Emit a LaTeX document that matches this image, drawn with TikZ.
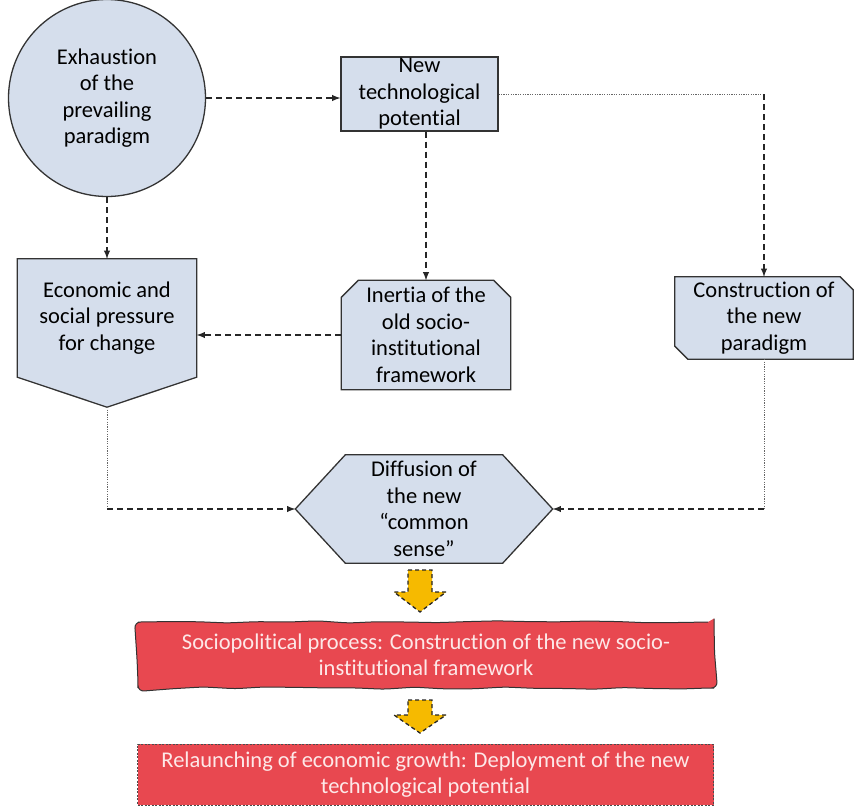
\documentclass[tikz,border=0pt]{standalone}
\usepackage{fontspec}
\setmainfont{Carlito}[Ligatures={NoCommon}]
\usetikzlibrary{decorations.pathmorphing}
\definecolor{boxblue}{RGB}{213,222,236}
\definecolor{boxred}{RGB}{232,72,80}
\definecolor{arrowyellow}{RGB}{246,186,0}
\definecolor{redtext}{RGB}{253,232,232}
\pgfdeclarelayer{bg}
\pgfsetlayers{bg,main}
\tikzset{
  txt/.style={align=center,inner sep=0pt,font=\fontsize{22.5}{26.5}\selectfont},
  outline/.style={fill=boxblue,draw=black!80,line width=1.3pt},
  dashline/.style={dash pattern=on 6pt off 4pt,line width=1.8pt,black!85},
  dotline/.style={dash pattern=on 1.2pt off 1.2pt,line width=0.9pt,black!60},
  redbox/.style={txt,fill=boxred,text=redtext,minimum width=576pt},
  yarrow/.style={fill=arrowyellow,draw=black!85,line width=1.3pt,dash pattern=on 4pt off 3pt}
}
\pgfmathsetseed{3}
\begin{document}
\begin{tikzpicture}[x=1pt,y=-1pt]
\useasboundingbox (0,0) rectangle (854,809);
% shapes and their texts
\node[txt,circle,outline,minimum size=197pt] (exh) at (107,98) {Exhaustion\\of the\\prevailing\\paradigm};
\node[txt,outline,minimum width=157pt,minimum height=74pt] (ntp) at (419.5,94) {New\\technological\\potential};
\node[txt,minimum width=179pt,minimum height=118pt] (eco) at (107,318) {Economic and\\social pressure\\for change};
\node[txt,minimum width=169pt,minimum height=109pt] (inr) at (426,335) {Inertia of the\\old socio-\\institutional\\framework};
\node[txt,minimum width=178pt,minimum height=82pt] (cons) at (764,318) {Construction of\\the new\\paradigm};
\node[txt,minimum width=257pt,minimum height=108pt] (diff) at (424,509) {Diffusion of\\the new\\“common\\sense”};
\begin{pgfonlayer}{bg}
\path[outline] (eco.north west) -- (eco.north east) -- (eco.south east) -- ([yshift=-30pt]eco.south) -- (eco.south west) -- cycle;
\path[outline] ([xshift=17pt]inr.north west) -- ([xshift=-17pt]inr.north east) -- ([yshift=-17pt]inr.north east) -- (inr.south east) -- (inr.south west) -- ([yshift=-17pt]inr.north west) -- cycle;
\path[outline] (cons.north west) -- ([xshift=-13pt]cons.north east) -- ([yshift=-13pt]cons.north east) -- (cons.south east) -- ([xshift=13pt]cons.south west) -- ([yshift=13pt]cons.south west) -- cycle;
\path[outline] (diff.west) -- ([xshift=50pt]diff.north west) -- ([xshift=-50pt]diff.north east) -- (diff.east) -- ([xshift=-50pt]diff.south east) -- ([xshift=50pt]diff.south west) -- cycle;
\end{pgfonlayer}
% connectors
\coordinate (ecotip) at ([yshift=-30pt]eco.south);
\coordinate (c1) at (ntp.east -| cons.north);
\coordinate (c2) at (ecotip |- diff.west);
\coordinate (c3) at (cons.south |- diff.east);
\draw[dashline,-latex] (exh.east) -- (exh.east -| ntp.west);
\draw[dashline,-latex] (exh.south) -- (eco.north);
\draw[dashline,-latex] (ntp.south -| inr.north) -- (inr.north);
\draw[dashline,-latex] (inr.west) -- (inr.west -| eco.east);
\draw[dotline] (ntp.east) -- (c1);
\draw[dashline,-latex] (c1) -- (cons.north);
\draw[dotline] (ecotip) -- (c2);
\draw[dashline,-latex] (c2) -- (diff.west);
\draw[dotline] (cons.south) -- (c3);
\draw[dashline,-latex] (c3) -- (diff.east);
% processes
\node[redbox,minimum height=66pt,draw=black!80,line width=1pt,rounded corners=6pt,decorate,decoration={random steps,segment length=30pt,amplitude=1.2pt}] (soc) at (426,655) {Sociopolitical process: Construction of the new socio-\\institutional framework};
\node[redbox,minimum height=61pt,draw=black!70,line width=1pt,dash pattern=on 2pt off 1.5pt] (rel) at (425.5,774.5) {Relaunching of economic growth: Deployment of the new\\technological potential};
\draw[yarrow] (408,570) -- (432,570) -- (432,592) -- (446,592) -- (420,612) -- (394,592) -- (408,592) -- cycle;
\draw[yarrow] (408,700) -- (432,700) -- (432,715) -- (446,715) -- (420,733) -- (394,715) -- (408,715) -- cycle;
\end{tikzpicture}
\end{document}
